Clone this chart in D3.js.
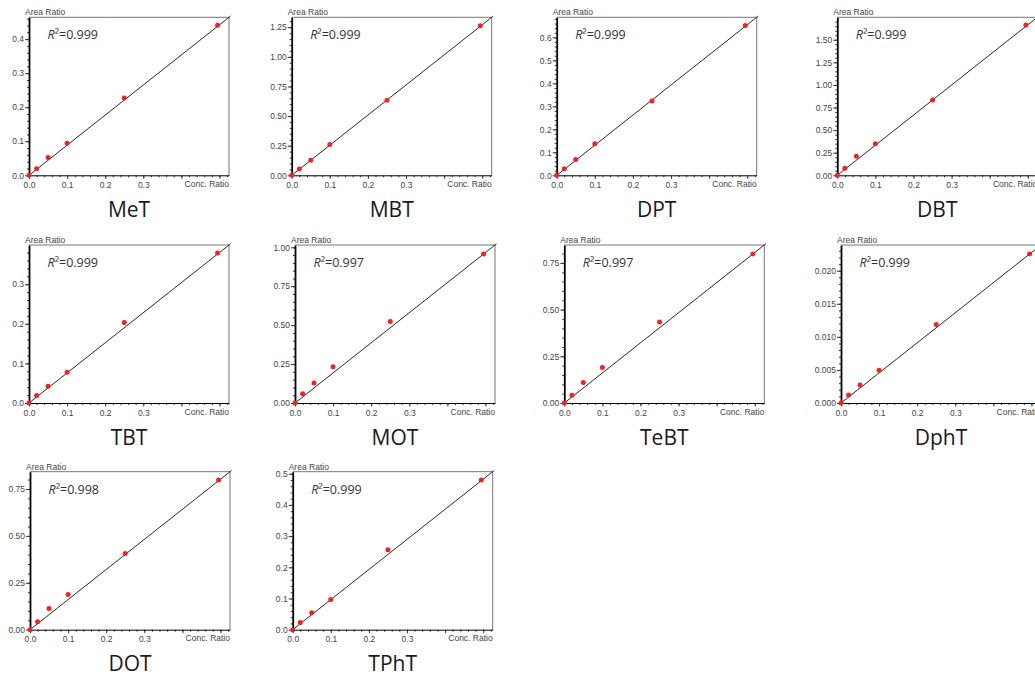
<!DOCTYPE html>
<html>
<head>
<meta charset="utf-8">
<script src="https://cdn.jsdelivr.net/npm/d3@7"></script>
<style>
  body { margin: 0; background: #fff; overflow: hidden; }
  .tick text { font-family: "Liberation Sans", Arial, sans-serif; font-size: 8.5px; fill: #444; }
</style>
</head>
<body>
<svg id="chart" width="1035" height="679"></svg>
<script>
// calibration data, one curve per organotin compound
var compounds = ["MeT", "MBT", "DPT", "DBT", "TBT", "MOT", "TeBT", "DphT", "DOT", "TPhT"];
var concRatio = [0, 0.02, 0.05, 0.1, 0.25, 0.495];

var areaMeT  = [0, 0.019, 0.052, 0.094, 0.227, 0.441];
var areaMBT  = [0, 0.054, 0.127, 0.26, 0.633, 1.263];
var areaDPT  = [0, 0.028, 0.069, 0.137, 0.323, 0.652];
var areaDBT  = [0, 0.078, 0.212, 0.35, 0.832, 1.664];
var areaTBT  = [0, 0.0187, 0.042, 0.0777, 0.2035, 0.379];
var areaMOT  = [0, 0.06, 0.128, 0.233, 0.524, 0.957];
var areaTeBT = [0, 0.041, 0.11, 0.19, 0.434, 0.798];
var areaDphT = [0, 0.0012, 0.00271, 0.00497, 0.01185, 0.02254];
var areaDOT  = [0, 0.0426, 0.113, 0.188, 0.406, 0.798];
var areaTPhT = [0, 0.0234, 0.0544, 0.097, 0.256, 0.48];

var areaRatios = [areaMeT, areaMBT, areaDPT, areaDBT, areaTBT, areaMOT, areaTeBT, areaDphT, areaDOT, areaTPhT];

// fitted slope of each calibration line (intercept ~0)
var fitSlope = [0.884, 2.54, 1.309, 3.33, 0.76, 1.933, 1.611, 0.0455, 1.604, 0.9646];
var r2Values = ["0.999", "0.999", "0.999", "0.999", "0.999", "0.997", "0.997", "0.999", "0.998", "0.999"];

var yTickStep   = [0.1, 0.25, 0.1, 0.25, 0.1, 0.25, 0.25, 0.005, 0.25, 0.1];
var yTickFormat = [".1f", ".2f", ".1f", ".2f", ".1f", ".2f", ".2f", ".3f", ".2f", ".1f"];
var xTickValues = [0, 0.1, 0.2, 0.3, 0.4, 0.5];
var xTickLabeled = [0, 0.1, 0.2, 0.3];

// layout of the small multiples (plot box top-left corners)
var panelLeft = [29, 291.7, 556.7, 837.3, 29, 295, 564.3, 841, 30, 292.7];
var panelTop  = [17.3, 17.3, 17.3, 17.3, 245, 245, 245, 245, 471.7, 471.7];
var plotW = 200, plotH = 158, xMax = 0.525;

var svg = d3.select("#chart");

for (var i = 0; i < compounds.length; i++) {
  var yMax = fitSlope[i] * xMax;
  var x = d3.scaleLinear().domain([0, xMax]).range([0, plotW]);
  var y = d3.scaleLinear().domain([0, yMax]).range([plotH, 0]);

  var g = svg.append("g")
    .attr("transform", "translate(" + panelLeft[i] + "," + panelTop[i] + ")");

  // top and right frame
  g.append("path")
    .attr("d", "M0,0H" + plotW + "V" + plotH)
    .attr("fill", "none")
    .attr("stroke", "#666")
    .attr("stroke-width", 0.9);

  // minor ticks
  var yMinor = d3.range(0, yMax + 1e-9, yTickStep[i] / 5);
  g.append("g")
    .call(d3.axisLeft(y).tickValues(yMinor).tickFormat("").tickSize(2))
    .call(function(a) { a.select(".domain").remove(); a.selectAll("line").attr("stroke", "#333"); });
  var xMinor = d3.range(0, xMax + 1e-9, 0.02);
  g.append("g")
    .attr("transform", "translate(0," + plotH + ")")
    .call(d3.axisBottom(x).tickValues(xMinor).tickFormat("").tickSize(2))
    .call(function(a) { a.select(".domain").remove(); a.selectAll("line").attr("stroke", "#333"); });

  // major y axis
  var yMajor = d3.range(0, yMax + 1e-9, yTickStep[i]);
  var fmt = d3.format(yTickFormat[i]);
  g.append("g")
    .call(d3.axisLeft(y).tickValues(yMajor).tickFormat(fmt).tickSize(4).tickPadding(1).tickSizeOuter(0))
    .call(function(a) {
      a.select(".domain").attr("stroke", "#000").attr("stroke-width", 1.8);
      a.selectAll(".tick line").attr("stroke", "#333");
    });

  // major x axis
  g.append("g")
    .attr("transform", "translate(0," + plotH + ")")
    .call(d3.axisBottom(x).tickValues(xTickValues).tickSize(3.5).tickPadding(3).tickSizeOuter(0)
      .tickFormat(function(d) { return xTickLabeled.indexOf(d) >= 0 ? d3.format(".1f")(d) : ""; }))
    .call(function(a) {
      a.select(".domain").attr("stroke", "#000").attr("stroke-width", 1);
      a.selectAll(".tick line").attr("stroke", "#333");
    });

  g.append("text")
    .attr("x", plotW)
    .attr("y", plotH + 11.8)
    .attr("text-anchor", "end")
    .attr("font-family", "Liberation Sans, Arial, sans-serif")
    .attr("font-size", 8.5)
    .attr("fill", "#444")
    .text("Conc. Ratio");

  g.append("text")
    .attr("x", -4)
    .attr("y", -2)
    .attr("font-family", "Liberation Sans, Arial, sans-serif")
    .attr("font-size", 8.5)
    .attr("fill", "#444")
    .text("Area Ratio");

  // calibration line
  g.append("line")
    .attr("x1", x(0)).attr("y1", y(0))
    .attr("x2", x(xMax + 0.004)).attr("y2", y(fitSlope[i] * (xMax + 0.004)))
    .attr("stroke", "#111")
    .attr("stroke-width", 0.9);

  // data points
  var pts = concRatio.map(function(c, k) { return {c: c, a: areaRatios[i][k]}; });
  g.selectAll(".pt")
    .data(pts)
    .enter().append("circle")
      .attr("class", "pt")
      .attr("cx", function(d) { return x(d.c); })
      .attr("cy", function(d) { return y(d.a); })
      .attr("r", 2.5)
      .attr("fill", "#ec2327");

  // R squared label
  var r2 = g.append("text")
    .attr("x", 18.5)
    .attr("y", 22)
    .attr("font-family", "Open Sans, sans-serif")
    .attr("font-size", 12.5)
    .attr("fill", "#333");
  r2.append("tspan").attr("font-style", "italic").text("R");
  r2.append("tspan").text("\u00b2=" + r2Values[i]);

  // compound name
  g.append("text")
    .attr("x", plotW / 2)
    .attr("y", plotH + 41.5)
    .attr("text-anchor", "middle")
    .attr("font-family", "Open Sans, sans-serif")
    .attr("font-size", 21)
    .attr("fill", "#1a1a1a")
    .text(compounds[i]);
}
</script>
</body>
</html>
